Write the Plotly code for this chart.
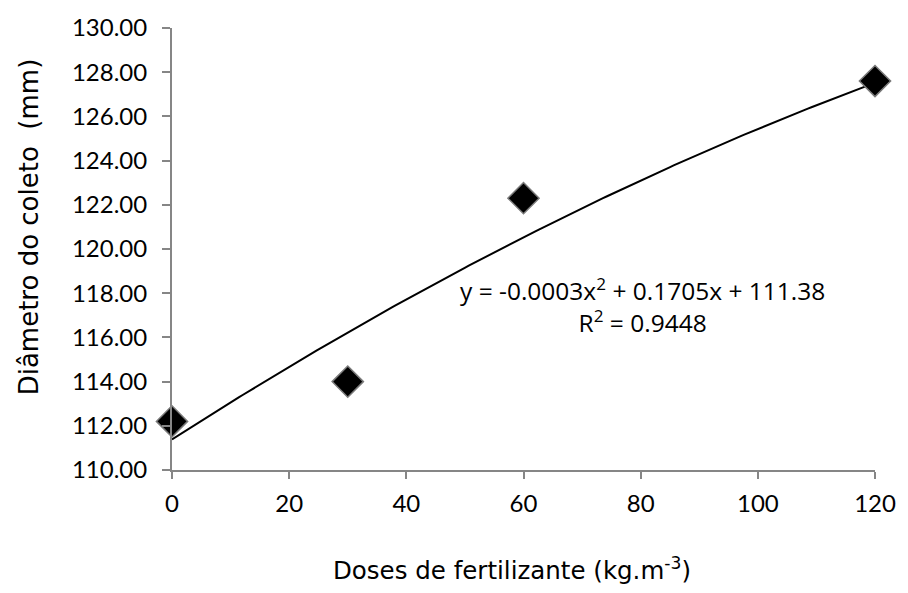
import numpy as np
import plotly.graph_objects as go

# Measured stem diameter per fertiliser dose
doses = [0, 30, 60, 120]
diametro = [112.2, 114.0, 122.3, 127.6]

# Quadratic trend coefficients (a*x^2 + b*x + c) and fit quality
coef_a, coef_b, coef_c = -0.0003, 0.1705, 111.38
r2 = 0.9448

x_ticks = [0, 20, 40, 60, 80, 100, 120]
y_ticks = [110, 112, 114, 116, 118, 120, 122, 124, 126, 128, 130]

xs = np.linspace(min(doses), max(doses), 200)
ys = coef_a * xs**2 + coef_b * xs + coef_c

fig = go.Figure()
fig.add_trace(go.Scatter(x=xs, y=ys, mode="lines",
                         line=dict(color="black", width=2),
                         hoverinfo="skip", showlegend=False))
fig.add_trace(go.Scatter(x=doses, y=diametro, mode="markers", cliponaxis=False,
                         marker=dict(symbol="diamond", size=24, color="black",
                                     line=dict(color="#7a7a7a", width=1.5)),
                         showlegend=False))

tick_font = dict(family="Lato", size=24, color="black")

fig.add_annotation(
    x=80.3, y=117.45, xref="x", yref="y",
    text=f"y = {coef_a:.4f}x<sup>2</sup> + {coef_b:.4f}x + {coef_c:.2f}<br>R<sup>2</sup> = {r2:.4f}",
    showarrow=False, align="center",
    font=dict(family="Open Sans", size=24.5, color="black"))

# Axis titles
fig.add_annotation(x=-0.2034, y=0.549, xref="paper", yref="paper",
                   text="Diâmetro do coleto&nbsp;&nbsp;(mm)", textangle=-90,
                   showarrow=False, xanchor="center", yanchor="middle",
                   font=dict(family="DejaVu Sans", size=26, color="black"))
fig.add_annotation(x=0.483, y=-0.224, xref="paper", yref="paper",
                   text="Doses de fertilizante (kg.m<sup>-3</sup>)",
                   showarrow=False, xanchor="center", yanchor="middle",
                   font=dict(family="DejaVu Sans", size=24.5, color="black"))

fig.update_layout(
    width=908, height=593,
    margin=dict(l=172, r=28, t=24, b=123),
    paper_bgcolor="white", plot_bgcolor="white",
    xaxis=dict(range=[0, 120], tickvals=x_ticks, ticktext=[str(v) for v in x_ticks],
               showgrid=False, zeroline=False, showline=True, linecolor="#868686",
               linewidth=2, ticks="outside", ticklen=7, tickcolor="#868686", tickwidth=2,
               tickfont=tick_font, ticklabelstandoff=4),
    yaxis=dict(range=[110, 130], tickvals=y_ticks,
               ticktext=[f"{v:.2f}" for v in y_ticks],
               showgrid=False, zeroline=False, showline=True, linecolor="#868686",
               linewidth=2, ticks="outside", ticklen=8, tickcolor="#868686", tickwidth=2,
               tickfont=tick_font, ticklabelstandoff=10),
)

fig.write_html("out.html")
